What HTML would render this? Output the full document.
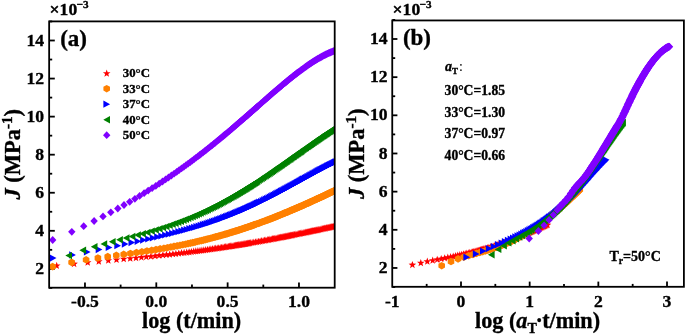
<!DOCTYPE html>
<html><head><meta charset="utf-8"><style>
html,body{margin:0;padding:0;background:#fff;width:685px;height:334px;overflow:hidden}
svg{display:block;will-change:transform}
</style></head><body>
<svg width="685" height="334" viewBox="0 0 685 334">
<defs>
<path id="st" d="M0.00,-3.70 L0.97,-1.03 L3.80,-0.94 L1.57,0.81 L2.35,3.54 L0.00,1.95 L-2.35,3.54 L-1.57,0.81 L-3.80,-0.94 L-0.97,-1.03Z" fill="#FF0000"/>
<path id="hx" d="M0.00,-3.80 L3.29,-1.90 L3.29,1.90 L0.00,3.80 L-3.29,1.90 L-3.29,-1.90Z" fill="#FF8000"/>
<path id="tr" d="M-3.3,-3.6 L3.4,0 L-3.3,3.6Z" fill="#0000FF"/>
<path id="tl" d="M3.3,-3.7 L-3.4,0 L3.3,3.7Z" fill="#008000"/>
<path id="dm" d="M0,-3.9 L3.7,0 L0,3.9 L-3.7,0Z" fill="#8000FF"/>
<clipPath id="cL"><rect x="49" y="21" width="285.6" height="266.6"/></clipPath>
<clipPath id="cR"><rect x="392" y="20" width="292" height="267"/></clipPath>
</defs>
<rect width="685" height="334" fill="#fff"/>
<g stroke="#000" stroke-width="1.8" fill="none">
<line x1="49" y1="287.89" x2="52.2" y2="287.89"/><line x1="49" y1="268.86" x2="54.8" y2="268.86"/><line x1="49" y1="249.83" x2="52.2" y2="249.83"/><line x1="49" y1="230.80" x2="54.8" y2="230.80"/><line x1="49" y1="211.77" x2="52.2" y2="211.77"/><line x1="49" y1="192.74" x2="54.8" y2="192.74"/><line x1="49" y1="173.71" x2="52.2" y2="173.71"/><line x1="49" y1="154.68" x2="54.8" y2="154.68"/><line x1="49" y1="135.65" x2="52.2" y2="135.65"/><line x1="49" y1="116.62" x2="54.8" y2="116.62"/><line x1="49" y1="97.59" x2="52.2" y2="97.59"/><line x1="49" y1="78.56" x2="54.8" y2="78.56"/><line x1="49" y1="59.53" x2="52.2" y2="59.53"/><line x1="49" y1="40.50" x2="54.8" y2="40.50"/><line x1="49" y1="21.47" x2="52.2" y2="21.47"/><line x1="84.97" y1="287.7" x2="84.97" y2="282.4"/><line x1="120.63" y1="287.7" x2="120.63" y2="284.6"/><line x1="156.30" y1="287.7" x2="156.30" y2="282.4"/><line x1="191.97" y1="287.7" x2="191.97" y2="284.6"/><line x1="227.63" y1="287.7" x2="227.63" y2="282.4"/><line x1="263.30" y1="287.7" x2="263.30" y2="284.6"/><line x1="298.97" y1="287.7" x2="298.97" y2="282.4"/><line x1="392.3" y1="287.04" x2="395.2" y2="287.04"/><line x1="392.3" y1="267.96" x2="397.4" y2="267.96"/><line x1="392.3" y1="248.88" x2="395.2" y2="248.88"/><line x1="392.3" y1="229.80" x2="397.4" y2="229.80"/><line x1="392.3" y1="210.72" x2="395.2" y2="210.72"/><line x1="392.3" y1="191.64" x2="397.4" y2="191.64"/><line x1="392.3" y1="172.56" x2="395.2" y2="172.56"/><line x1="392.3" y1="153.48" x2="397.4" y2="153.48"/><line x1="392.3" y1="134.40" x2="395.2" y2="134.40"/><line x1="392.3" y1="115.32" x2="397.4" y2="115.32"/><line x1="392.3" y1="96.24" x2="395.2" y2="96.24"/><line x1="392.3" y1="77.16" x2="397.4" y2="77.16"/><line x1="392.3" y1="58.08" x2="395.2" y2="58.08"/><line x1="392.3" y1="39.00" x2="397.4" y2="39.00"/><line x1="392.3" y1="19.92" x2="395.2" y2="19.92"/><line x1="426.67" y1="286.8" x2="426.67" y2="283.9"/><line x1="461.00" y1="286.8" x2="461.00" y2="281.6"/><line x1="495.33" y1="286.8" x2="495.33" y2="283.9"/><line x1="529.67" y1="286.8" x2="529.67" y2="281.6"/><line x1="564.00" y1="286.8" x2="564.00" y2="283.9"/><line x1="598.34" y1="286.8" x2="598.34" y2="281.6"/><line x1="632.67" y1="286.8" x2="632.67" y2="283.9"/><line x1="667.01" y1="286.8" x2="667.01" y2="281.6"/>
</g>
<g clip-path="url(#cL)"><use href="#st" x="56.7" y="265.5"/><use href="#st" x="74.1" y="263.6"/><use href="#st" x="87.7" y="262.2"/><use href="#st" x="98.8" y="261.2"/><use href="#st" x="108.3" y="260.3"/><use href="#st" x="116.5" y="259.5"/><use href="#st" x="123.7" y="258.8"/><use href="#st" x="130.2" y="258.2"/><use href="#st" x="136.0" y="257.7"/><use href="#st" x="141.4" y="257.1"/><use href="#st" x="146.3" y="256.6"/><use href="#st" x="150.9" y="256.2"/><use href="#st" x="155.1" y="255.7"/><use href="#st" x="159.1" y="255.3"/><use href="#st" x="162.9" y="254.9"/><use href="#st" x="166.4" y="254.5"/><use href="#st" x="169.7" y="254.2"/><use href="#st" x="172.9" y="253.8"/><use href="#st" x="175.9" y="253.5"/><use href="#st" x="178.8" y="253.1"/><use href="#st" x="181.5" y="252.8"/><use href="#st" x="184.1" y="252.5"/><use href="#st" x="186.7" y="252.2"/><use href="#st" x="189.1" y="251.9"/><use href="#st" x="191.4" y="251.6"/><use href="#st" x="193.7" y="251.3"/><use href="#st" x="195.8" y="251.0"/><use href="#st" x="197.9" y="250.8"/><use href="#st" x="200.0" y="250.5"/><use href="#st" x="201.9" y="250.2"/><use href="#st" x="203.8" y="250.0"/><use href="#st" x="205.7" y="249.7"/><use href="#st" x="207.5" y="249.5"/><use href="#st" x="209.2" y="249.2"/><use href="#st" x="210.9" y="249.0"/><use href="#st" x="212.5" y="248.8"/><use href="#st" x="214.2" y="248.5"/><use href="#st" x="215.7" y="248.3"/><use href="#st" x="217.2" y="248.1"/><use href="#st" x="218.7" y="247.9"/><use href="#st" x="220.2" y="247.7"/><use href="#st" x="221.6" y="247.4"/><use href="#st" x="223.0" y="247.2"/><use href="#st" x="224.4" y="247.0"/><use href="#st" x="225.7" y="246.8"/><use href="#st" x="227.0" y="246.6"/><use href="#st" x="228.3" y="246.4"/><use href="#st" x="229.5" y="246.2"/><use href="#st" x="230.7" y="246.0"/><use href="#st" x="231.9" y="245.9"/><use href="#st" x="233.1" y="245.7"/><use href="#st" x="234.3" y="245.5"/><use href="#st" x="235.4" y="245.3"/><use href="#st" x="236.5" y="245.1"/><use href="#st" x="237.6" y="244.9"/><use href="#st" x="238.7" y="244.8"/><use href="#st" x="239.8" y="244.6"/><use href="#st" x="240.8" y="244.4"/><use href="#st" x="241.8" y="244.3"/><use href="#st" x="242.8" y="244.1"/><use href="#st" x="243.8" y="243.9"/><use href="#st" x="244.8" y="243.8"/><use href="#st" x="245.8" y="243.6"/><use href="#st" x="246.7" y="243.4"/><use href="#st" x="247.6" y="243.3"/><use href="#st" x="248.5" y="243.1"/><use href="#st" x="249.5" y="243.0"/><use href="#st" x="250.3" y="242.8"/><use href="#st" x="252.1" y="242.5"/><use href="#st" x="253.8" y="242.2"/><use href="#st" x="255.4" y="241.9"/><use href="#st" x="257.0" y="241.7"/><use href="#st" x="258.6" y="241.4"/><use href="#st" x="260.1" y="241.1"/><use href="#st" x="261.6" y="240.8"/><use href="#st" x="263.1" y="240.6"/><use href="#st" x="264.5" y="240.3"/><use href="#st" x="265.9" y="240.1"/><use href="#st" x="267.3" y="239.8"/><use href="#st" x="268.6" y="239.6"/><use href="#st" x="269.9" y="239.3"/><use href="#st" x="271.2" y="239.1"/><use href="#st" x="272.4" y="238.8"/><use href="#st" x="273.6" y="238.6"/><use href="#st" x="274.8" y="238.4"/><use href="#st" x="276.0" y="238.2"/><use href="#st" x="277.2" y="237.9"/><use href="#st" x="278.3" y="237.7"/><use href="#st" x="279.4" y="237.5"/><use href="#st" x="280.5" y="237.3"/><use href="#st" x="281.6" y="237.1"/><use href="#st" x="282.7" y="236.9"/><use href="#st" x="283.7" y="236.7"/><use href="#st" x="284.7" y="236.5"/><use href="#st" x="285.7" y="236.3"/><use href="#st" x="286.7" y="236.1"/><use href="#st" x="287.7" y="235.9"/><use href="#st" x="288.7" y="235.7"/><use href="#st" x="289.6" y="235.5"/><use href="#st" x="290.5" y="235.3"/><use href="#st" x="291.5" y="235.1"/><use href="#st" x="292.4" y="235.0"/><use href="#st" x="293.3" y="234.8"/><use href="#st" x="294.6" y="234.5"/><use href="#st" x="295.9" y="234.3"/><use href="#st" x="297.1" y="234.0"/><use href="#st" x="298.3" y="233.8"/><use href="#st" x="299.6" y="233.5"/><use href="#st" x="300.7" y="233.3"/><use href="#st" x="301.9" y="233.0"/><use href="#st" x="303.1" y="232.8"/><use href="#st" x="304.2" y="232.6"/><use href="#st" x="305.3" y="232.3"/><use href="#st" x="306.4" y="232.1"/><use href="#st" x="307.4" y="231.9"/><use href="#st" x="308.5" y="231.7"/><use href="#st" x="309.5" y="231.5"/><use href="#st" x="310.5" y="231.2"/><use href="#st" x="311.5" y="231.0"/><use href="#st" x="312.5" y="230.8"/><use href="#st" x="313.5" y="230.6"/><use href="#st" x="314.4" y="230.4"/><use href="#st" x="315.3" y="230.2"/><use href="#st" x="316.3" y="230.0"/><use href="#st" x="317.2" y="229.9"/><use href="#st" x="318.1" y="229.7"/><use href="#st" x="319.0" y="229.5"/><use href="#st" x="320.1" y="229.2"/><use href="#st" x="321.2" y="229.0"/><use href="#st" x="322.4" y="228.8"/><use href="#st" x="323.5" y="228.5"/><use href="#st" x="324.5" y="228.3"/><use href="#st" x="325.6" y="228.1"/><use href="#st" x="326.6" y="227.8"/><use href="#st" x="327.7" y="227.6"/><use href="#st" x="328.7" y="227.4"/><use href="#st" x="329.7" y="227.2"/><use href="#st" x="330.6" y="227.0"/><use href="#st" x="331.6" y="226.8"/><use href="#st" x="332.5" y="226.6"/><use href="#st" x="333.5" y="226.4"/><use href="#st" x="334.4" y="226.2"/><use href="#st" x="335.3" y="226.0"/><use href="#st" x="336.2" y="225.8"/><use href="#st" x="337.3" y="225.6"/><use href="#hx" x="52.6" y="266.6"/><use href="#hx" x="71.6" y="262.4"/><use href="#hx" x="86.1" y="259.8"/><use href="#hx" x="97.9" y="258.0"/><use href="#hx" x="107.7" y="256.6"/><use href="#hx" x="116.3" y="255.4"/><use href="#hx" x="123.7" y="254.4"/><use href="#hx" x="130.4" y="253.5"/><use href="#hx" x="136.5" y="252.6"/><use href="#hx" x="141.9" y="251.8"/><use href="#hx" x="147.0" y="251.0"/><use href="#hx" x="151.7" y="250.3"/><use href="#hx" x="156.0" y="249.6"/><use href="#hx" x="160.1" y="248.9"/><use href="#hx" x="163.9" y="248.3"/><use href="#hx" x="167.4" y="247.7"/><use href="#hx" x="170.8" y="247.0"/><use href="#hx" x="174.0" y="246.4"/><use href="#hx" x="177.1" y="245.9"/><use href="#hx" x="180.0" y="245.3"/><use href="#hx" x="182.8" y="244.7"/><use href="#hx" x="185.5" y="244.2"/><use href="#hx" x="188.0" y="243.6"/><use href="#hx" x="190.5" y="243.1"/><use href="#hx" x="192.8" y="242.6"/><use href="#hx" x="195.1" y="242.1"/><use href="#hx" x="197.3" y="241.5"/><use href="#hx" x="199.4" y="241.0"/><use href="#hx" x="201.4" y="240.6"/><use href="#hx" x="203.4" y="240.1"/><use href="#hx" x="205.3" y="239.6"/><use href="#hx" x="207.2" y="239.1"/><use href="#hx" x="209.0" y="238.7"/><use href="#hx" x="210.8" y="238.2"/><use href="#hx" x="212.5" y="237.8"/><use href="#hx" x="214.1" y="237.3"/><use href="#hx" x="215.7" y="236.9"/><use href="#hx" x="217.3" y="236.5"/><use href="#hx" x="218.9" y="236.0"/><use href="#hx" x="220.4" y="235.6"/><use href="#hx" x="221.8" y="235.2"/><use href="#hx" x="223.3" y="234.8"/><use href="#hx" x="224.7" y="234.4"/><use href="#hx" x="226.0" y="234.0"/><use href="#hx" x="227.4" y="233.6"/><use href="#hx" x="228.7" y="233.2"/><use href="#hx" x="230.0" y="232.8"/><use href="#hx" x="231.2" y="232.4"/><use href="#hx" x="232.5" y="232.0"/><use href="#hx" x="233.7" y="231.7"/><use href="#hx" x="234.8" y="231.3"/><use href="#hx" x="236.0" y="230.9"/><use href="#hx" x="237.1" y="230.6"/><use href="#hx" x="238.3" y="230.2"/><use href="#hx" x="239.4" y="229.9"/><use href="#hx" x="240.5" y="229.5"/><use href="#hx" x="241.5" y="229.2"/><use href="#hx" x="242.6" y="228.8"/><use href="#hx" x="243.6" y="228.5"/><use href="#hx" x="244.6" y="228.1"/><use href="#hx" x="245.6" y="227.8"/><use href="#hx" x="246.6" y="227.5"/><use href="#hx" x="247.5" y="227.2"/><use href="#hx" x="248.5" y="226.8"/><use href="#hx" x="249.4" y="226.5"/><use href="#hx" x="250.3" y="226.2"/><use href="#hx" x="251.2" y="225.9"/><use href="#hx" x="252.1" y="225.6"/><use href="#hx" x="253.0" y="225.3"/><use href="#hx" x="253.9" y="224.9"/><use href="#hx" x="254.8" y="224.6"/><use href="#hx" x="256.4" y="224.0"/><use href="#hx" x="258.1" y="223.5"/><use href="#hx" x="259.7" y="222.9"/><use href="#hx" x="261.2" y="222.3"/><use href="#hx" x="262.7" y="221.7"/><use href="#hx" x="264.2" y="221.2"/><use href="#hx" x="265.7" y="220.6"/><use href="#hx" x="267.1" y="220.1"/><use href="#hx" x="268.4" y="219.6"/><use href="#hx" x="269.8" y="219.1"/><use href="#hx" x="271.1" y="218.6"/><use href="#hx" x="272.4" y="218.1"/><use href="#hx" x="273.7" y="217.6"/><use href="#hx" x="274.9" y="217.1"/><use href="#hx" x="276.1" y="216.6"/><use href="#hx" x="277.3" y="216.1"/><use href="#hx" x="278.5" y="215.6"/><use href="#hx" x="279.7" y="215.2"/><use href="#hx" x="280.8" y="214.7"/><use href="#hx" x="281.9" y="214.3"/><use href="#hx" x="283.0" y="213.8"/><use href="#hx" x="284.0" y="213.4"/><use href="#hx" x="285.1" y="212.9"/><use href="#hx" x="286.1" y="212.5"/><use href="#hx" x="287.2" y="212.1"/><use href="#hx" x="288.2" y="211.7"/><use href="#hx" x="289.1" y="211.3"/><use href="#hx" x="290.1" y="210.8"/><use href="#hx" x="291.1" y="210.4"/><use href="#hx" x="292.0" y="210.0"/><use href="#hx" x="292.9" y="209.7"/><use href="#hx" x="293.8" y="209.3"/><use href="#hx" x="294.7" y="208.9"/><use href="#hx" x="295.6" y="208.5"/><use href="#hx" x="296.5" y="208.1"/><use href="#hx" x="297.4" y="207.7"/><use href="#hx" x="298.2" y="207.4"/><use href="#hx" x="299.1" y="207.0"/><use href="#hx" x="299.9" y="206.6"/><use href="#hx" x="301.1" y="206.1"/><use href="#hx" x="302.3" y="205.6"/><use href="#hx" x="303.5" y="205.1"/><use href="#hx" x="304.6" y="204.6"/><use href="#hx" x="305.8" y="204.0"/><use href="#hx" x="306.9" y="203.5"/><use href="#hx" x="308.0" y="203.1"/><use href="#hx" x="309.0" y="202.6"/><use href="#hx" x="310.1" y="202.1"/><use href="#hx" x="311.1" y="201.6"/><use href="#hx" x="312.1" y="201.2"/><use href="#hx" x="313.1" y="200.7"/><use href="#hx" x="314.1" y="200.3"/><use href="#hx" x="315.1" y="199.8"/><use href="#hx" x="316.1" y="199.4"/><use href="#hx" x="317.0" y="198.9"/><use href="#hx" x="317.9" y="198.5"/><use href="#hx" x="318.8" y="198.1"/><use href="#hx" x="319.7" y="197.7"/><use href="#hx" x="320.6" y="197.3"/><use href="#hx" x="321.5" y="196.9"/><use href="#hx" x="322.4" y="196.5"/><use href="#hx" x="323.2" y="196.1"/><use href="#hx" x="324.1" y="195.7"/><use href="#hx" x="324.9" y="195.3"/><use href="#hx" x="325.7" y="194.9"/><use href="#hx" x="326.8" y="194.4"/><use href="#hx" x="327.8" y="193.9"/><use href="#hx" x="328.9" y="193.4"/><use href="#hx" x="329.9" y="192.9"/><use href="#hx" x="330.9" y="192.4"/><use href="#hx" x="331.9" y="192.0"/><use href="#hx" x="332.9" y="191.5"/><use href="#hx" x="333.8" y="191.0"/><use href="#hx" x="334.8" y="190.6"/><use href="#hx" x="335.7" y="190.1"/><use href="#tr" x="53.1" y="258.1"/><use href="#tr" x="72.5" y="254.9"/><use href="#tr" x="87.2" y="252.0"/><use href="#tr" x="99.0" y="249.6"/><use href="#tr" x="109.0" y="247.5"/><use href="#tr" x="117.6" y="245.7"/><use href="#tr" x="125.1" y="244.1"/><use href="#tr" x="131.8" y="242.6"/><use href="#tr" x="137.9" y="241.3"/><use href="#tr" x="143.4" y="240.1"/><use href="#tr" x="148.5" y="239.0"/><use href="#tr" x="153.1" y="237.9"/><use href="#tr" x="157.5" y="236.9"/><use href="#tr" x="161.6" y="236.0"/><use href="#tr" x="165.4" y="235.0"/><use href="#tr" x="169.0" y="234.2"/><use href="#tr" x="172.4" y="233.3"/><use href="#tr" x="175.6" y="232.5"/><use href="#tr" x="178.7" y="231.7"/><use href="#tr" x="181.6" y="230.9"/><use href="#tr" x="184.4" y="230.2"/><use href="#tr" x="187.0" y="229.5"/><use href="#tr" x="189.6" y="228.7"/><use href="#tr" x="192.1" y="228.0"/><use href="#tr" x="194.4" y="227.4"/><use href="#tr" x="196.7" y="226.7"/><use href="#tr" x="198.9" y="226.0"/><use href="#tr" x="201.0" y="225.4"/><use href="#tr" x="203.1" y="224.7"/><use href="#tr" x="205.0" y="224.1"/><use href="#tr" x="207.0" y="223.5"/><use href="#tr" x="208.8" y="222.9"/><use href="#tr" x="210.6" y="222.3"/><use href="#tr" x="212.4" y="221.7"/><use href="#tr" x="214.1" y="221.1"/><use href="#tr" x="215.8" y="220.5"/><use href="#tr" x="217.4" y="219.9"/><use href="#tr" x="219.0" y="219.4"/><use href="#tr" x="220.5" y="218.8"/><use href="#tr" x="222.0" y="218.3"/><use href="#tr" x="223.5" y="217.7"/><use href="#tr" x="224.9" y="217.2"/><use href="#tr" x="226.3" y="216.7"/><use href="#tr" x="227.7" y="216.1"/><use href="#tr" x="229.0" y="215.6"/><use href="#tr" x="230.3" y="215.1"/><use href="#tr" x="231.6" y="214.6"/><use href="#tr" x="232.9" y="214.1"/><use href="#tr" x="234.1" y="213.6"/><use href="#tr" x="235.3" y="213.1"/><use href="#tr" x="236.5" y="212.6"/><use href="#tr" x="237.7" y="212.2"/><use href="#tr" x="238.8" y="211.7"/><use href="#tr" x="239.9" y="211.2"/><use href="#tr" x="241.0" y="210.7"/><use href="#tr" x="242.1" y="210.3"/><use href="#tr" x="243.2" y="209.8"/><use href="#tr" x="244.2" y="209.4"/><use href="#tr" x="245.3" y="208.9"/><use href="#tr" x="246.3" y="208.5"/><use href="#tr" x="247.3" y="208.0"/><use href="#tr" x="248.2" y="207.6"/><use href="#tr" x="249.2" y="207.1"/><use href="#tr" x="250.2" y="206.7"/><use href="#tr" x="251.1" y="206.3"/><use href="#tr" x="252.0" y="205.9"/><use href="#tr" x="252.9" y="205.5"/><use href="#tr" x="253.8" y="205.0"/><use href="#tr" x="254.7" y="204.6"/><use href="#tr" x="255.6" y="204.2"/><use href="#tr" x="256.4" y="203.8"/><use href="#tr" x="257.3" y="203.4"/><use href="#tr" x="258.1" y="203.0"/><use href="#tr" x="258.9" y="202.6"/><use href="#tr" x="259.7" y="202.2"/><use href="#tr" x="261.3" y="201.5"/><use href="#tr" x="262.9" y="200.7"/><use href="#tr" x="264.4" y="199.9"/><use href="#tr" x="265.9" y="199.2"/><use href="#tr" x="267.3" y="198.5"/><use href="#tr" x="268.8" y="197.8"/><use href="#tr" x="270.1" y="197.1"/><use href="#tr" x="271.5" y="196.4"/><use href="#tr" x="272.8" y="195.7"/><use href="#tr" x="274.1" y="195.0"/><use href="#tr" x="275.4" y="194.4"/><use href="#tr" x="276.6" y="193.7"/><use href="#tr" x="277.8" y="193.1"/><use href="#tr" x="279.0" y="192.4"/><use href="#tr" x="280.2" y="191.8"/><use href="#tr" x="281.3" y="191.2"/><use href="#tr" x="282.5" y="190.6"/><use href="#tr" x="283.6" y="190.0"/><use href="#tr" x="284.7" y="189.4"/><use href="#tr" x="285.7" y="188.8"/><use href="#tr" x="286.8" y="188.3"/><use href="#tr" x="287.8" y="187.7"/><use href="#tr" x="288.9" y="187.1"/><use href="#tr" x="289.9" y="186.6"/><use href="#tr" x="290.8" y="186.1"/><use href="#tr" x="291.8" y="185.5"/><use href="#tr" x="292.8" y="185.0"/><use href="#tr" x="293.7" y="184.5"/><use href="#tr" x="294.6" y="184.0"/><use href="#tr" x="295.5" y="183.5"/><use href="#tr" x="296.4" y="183.0"/><use href="#tr" x="297.3" y="182.5"/><use href="#tr" x="298.2" y="182.0"/><use href="#tr" x="299.1" y="181.5"/><use href="#tr" x="299.9" y="181.1"/><use href="#tr" x="300.8" y="180.6"/><use href="#tr" x="301.6" y="180.1"/><use href="#tr" x="302.4" y="179.7"/><use href="#tr" x="303.2" y="179.2"/><use href="#tr" x="304.0" y="178.8"/><use href="#tr" x="305.2" y="178.1"/><use href="#tr" x="306.3" y="177.5"/><use href="#tr" x="307.5" y="176.9"/><use href="#tr" x="308.6" y="176.3"/><use href="#tr" x="309.7" y="175.7"/><use href="#tr" x="310.7" y="175.1"/><use href="#tr" x="311.8" y="174.5"/><use href="#tr" x="312.8" y="173.9"/><use href="#tr" x="313.8" y="173.4"/><use href="#tr" x="314.9" y="172.8"/><use href="#tr" x="315.8" y="172.3"/><use href="#tr" x="316.8" y="171.7"/><use href="#tr" x="317.8" y="171.2"/><use href="#tr" x="318.7" y="170.7"/><use href="#tr" x="319.6" y="170.2"/><use href="#tr" x="320.6" y="169.7"/><use href="#tr" x="321.5" y="169.3"/><use href="#tr" x="322.3" y="168.8"/><use href="#tr" x="323.2" y="168.3"/><use href="#tr" x="324.1" y="167.9"/><use href="#tr" x="324.9" y="167.4"/><use href="#tr" x="325.8" y="167.0"/><use href="#tr" x="326.6" y="166.6"/><use href="#tr" x="327.4" y="166.1"/><use href="#tr" x="328.2" y="165.7"/><use href="#tr" x="329.3" y="165.2"/><use href="#tr" x="330.3" y="164.7"/><use href="#tr" x="331.4" y="164.2"/><use href="#tr" x="332.4" y="163.7"/><use href="#tr" x="333.4" y="163.2"/><use href="#tr" x="334.3" y="162.7"/><use href="#tr" x="335.3" y="162.2"/><use href="#tr" x="336.2" y="161.8"/><use href="#tr" x="337.2" y="161.3"/><use href="#tl" x="68.7" y="255.6"/><use href="#tl" x="82.8" y="250.3"/><use href="#tl" x="94.2" y="246.7"/><use href="#tl" x="103.9" y="243.9"/><use href="#tl" x="112.3" y="241.7"/><use href="#tl" x="119.6" y="239.7"/><use href="#tl" x="126.2" y="238.0"/><use href="#tl" x="132.1" y="236.5"/><use href="#tl" x="137.6" y="235.0"/><use href="#tl" x="142.6" y="233.7"/><use href="#tl" x="147.2" y="232.4"/><use href="#tl" x="151.5" y="231.1"/><use href="#tl" x="155.5" y="229.9"/><use href="#tl" x="159.3" y="228.7"/><use href="#tl" x="162.8" y="227.6"/><use href="#tl" x="166.2" y="226.5"/><use href="#tl" x="169.4" y="225.4"/><use href="#tl" x="172.4" y="224.3"/><use href="#tl" x="175.3" y="223.3"/><use href="#tl" x="178.1" y="222.3"/><use href="#tl" x="180.7" y="221.3"/><use href="#tl" x="183.3" y="220.3"/><use href="#tl" x="185.7" y="219.3"/><use href="#tl" x="188.0" y="218.4"/><use href="#tl" x="190.3" y="217.4"/><use href="#tl" x="192.5" y="216.5"/><use href="#tl" x="194.6" y="215.6"/><use href="#tl" x="196.6" y="214.7"/><use href="#tl" x="198.6" y="213.9"/><use href="#tl" x="200.5" y="213.0"/><use href="#tl" x="202.4" y="212.1"/><use href="#tl" x="204.2" y="211.3"/><use href="#tl" x="205.9" y="210.5"/><use href="#tl" x="207.6" y="209.7"/><use href="#tl" x="209.3" y="208.8"/><use href="#tl" x="210.9" y="208.0"/><use href="#tl" x="212.5" y="207.3"/><use href="#tl" x="214.0" y="206.5"/><use href="#tl" x="215.5" y="205.7"/><use href="#tl" x="216.9" y="205.0"/><use href="#tl" x="218.4" y="204.2"/><use href="#tl" x="219.8" y="203.5"/><use href="#tl" x="221.1" y="202.8"/><use href="#tl" x="222.5" y="202.0"/><use href="#tl" x="223.8" y="201.3"/><use href="#tl" x="225.1" y="200.6"/><use href="#tl" x="226.3" y="199.9"/><use href="#tl" x="227.5" y="199.3"/><use href="#tl" x="228.7" y="198.6"/><use href="#tl" x="229.9" y="197.9"/><use href="#tl" x="231.1" y="197.3"/><use href="#tl" x="232.2" y="196.6"/><use href="#tl" x="233.3" y="196.0"/><use href="#tl" x="234.4" y="195.3"/><use href="#tl" x="235.5" y="194.7"/><use href="#tl" x="236.6" y="194.1"/><use href="#tl" x="237.6" y="193.5"/><use href="#tl" x="238.6" y="192.8"/><use href="#tl" x="239.7" y="192.2"/><use href="#tl" x="240.6" y="191.6"/><use href="#tl" x="241.6" y="191.0"/><use href="#tl" x="242.6" y="190.5"/><use href="#tl" x="243.5" y="189.9"/><use href="#tl" x="244.5" y="189.3"/><use href="#tl" x="245.4" y="188.7"/><use href="#tl" x="246.3" y="188.2"/><use href="#tl" x="247.2" y="187.6"/><use href="#tl" x="248.1" y="187.1"/><use href="#tl" x="248.9" y="186.5"/><use href="#tl" x="249.8" y="186.0"/><use href="#tl" x="250.6" y="185.5"/><use href="#tl" x="251.5" y="184.9"/><use href="#tl" x="252.3" y="184.4"/><use href="#tl" x="253.1" y="183.9"/><use href="#tl" x="253.9" y="183.4"/><use href="#tl" x="254.7" y="182.9"/><use href="#tl" x="255.5" y="182.4"/><use href="#tl" x="256.2" y="181.9"/><use href="#tl" x="257.0" y="181.4"/><use href="#tl" x="258.5" y="180.4"/><use href="#tl" x="259.9" y="179.4"/><use href="#tl" x="261.4" y="178.5"/><use href="#tl" x="262.8" y="177.6"/><use href="#tl" x="264.1" y="176.6"/><use href="#tl" x="265.5" y="175.8"/><use href="#tl" x="266.8" y="174.9"/><use href="#tl" x="268.0" y="174.0"/><use href="#tl" x="269.3" y="173.2"/><use href="#tl" x="270.5" y="172.3"/><use href="#tl" x="271.7" y="171.5"/><use href="#tl" x="272.9" y="170.7"/><use href="#tl" x="274.1" y="169.9"/><use href="#tl" x="275.2" y="169.1"/><use href="#tl" x="276.3" y="168.3"/><use href="#tl" x="277.4" y="167.6"/><use href="#tl" x="278.5" y="166.8"/><use href="#tl" x="279.6" y="166.1"/><use href="#tl" x="280.6" y="165.4"/><use href="#tl" x="281.6" y="164.7"/><use href="#tl" x="282.6" y="163.9"/><use href="#tl" x="283.6" y="163.3"/><use href="#tl" x="284.6" y="162.6"/><use href="#tl" x="285.6" y="161.9"/><use href="#tl" x="286.5" y="161.2"/><use href="#tl" x="287.4" y="160.6"/><use href="#tl" x="288.4" y="159.9"/><use href="#tl" x="289.3" y="159.3"/><use href="#tl" x="290.2" y="158.7"/><use href="#tl" x="291.0" y="158.0"/><use href="#tl" x="291.9" y="157.4"/><use href="#tl" x="292.8" y="156.8"/><use href="#tl" x="293.6" y="156.2"/><use href="#tl" x="294.4" y="155.6"/><use href="#tl" x="295.3" y="155.1"/><use href="#tl" x="296.1" y="154.5"/><use href="#tl" x="296.9" y="153.9"/><use href="#tl" x="297.7" y="153.4"/><use href="#tl" x="298.4" y="152.8"/><use href="#tl" x="299.2" y="152.3"/><use href="#tl" x="300.0" y="151.7"/><use href="#tl" x="300.7" y="151.2"/><use href="#tl" x="301.5" y="150.7"/><use href="#tl" x="302.6" y="149.9"/><use href="#tl" x="303.6" y="149.1"/><use href="#tl" x="304.7" y="148.4"/><use href="#tl" x="305.7" y="147.7"/><use href="#tl" x="306.8" y="146.9"/><use href="#tl" x="307.8" y="146.2"/><use href="#tl" x="308.8" y="145.5"/><use href="#tl" x="309.7" y="144.9"/><use href="#tl" x="310.7" y="144.2"/><use href="#tl" x="311.7" y="143.5"/><use href="#tl" x="312.6" y="142.9"/><use href="#tl" x="313.5" y="142.2"/><use href="#tl" x="314.4" y="141.6"/><use href="#tl" x="315.3" y="141.0"/><use href="#tl" x="316.2" y="140.4"/><use href="#tl" x="317.0" y="139.8"/><use href="#tl" x="317.9" y="139.2"/><use href="#tl" x="318.7" y="138.6"/><use href="#tl" x="319.6" y="138.1"/><use href="#tl" x="320.4" y="137.5"/><use href="#tl" x="321.2" y="136.9"/><use href="#tl" x="322.0" y="136.4"/><use href="#tl" x="322.8" y="135.9"/><use href="#tl" x="323.6" y="135.3"/><use href="#tl" x="324.3" y="134.8"/><use href="#tl" x="325.1" y="134.3"/><use href="#tl" x="325.9" y="133.8"/><use href="#tl" x="326.8" y="133.2"/><use href="#tl" x="327.8" y="132.5"/><use href="#tl" x="328.8" y="131.9"/><use href="#tl" x="329.7" y="131.3"/><use href="#tl" x="330.6" y="130.7"/><use href="#tl" x="331.6" y="130.1"/><use href="#tl" x="332.5" y="129.5"/><use href="#tl" x="333.4" y="128.9"/><use href="#tl" x="334.2" y="128.3"/><use href="#tl" x="335.1" y="127.8"/><use href="#tl" x="335.9" y="127.3"/><use href="#tl" x="336.8" y="126.7"/><use href="#tl" x="337.6" y="126.2"/><use href="#tl" x="338.4" y="125.7"/><use href="#tl" x="339.2" y="125.2"/><use href="#tl" x="340.0" y="124.7"/><use href="#tl" x="340.8" y="124.2"/><use href="#tl" x="341.6" y="123.7"/><use href="#dm" x="52.7" y="240.0"/><use href="#dm" x="71.8" y="231.8"/><use href="#dm" x="83.7" y="226.2"/><use href="#dm" x="94.1" y="221.0"/><use href="#dm" x="103.0" y="216.4"/><use href="#dm" x="110.8" y="212.3"/><use href="#dm" x="117.8" y="208.5"/><use href="#dm" x="124.0" y="205.0"/><use href="#dm" x="129.7" y="201.8"/><use href="#dm" x="134.9" y="198.8"/><use href="#dm" x="139.6" y="195.9"/><use href="#dm" x="144.1" y="193.2"/><use href="#dm" x="148.2" y="190.6"/><use href="#dm" x="152.1" y="188.2"/><use href="#dm" x="155.8" y="185.9"/><use href="#dm" x="159.2" y="183.7"/><use href="#dm" x="162.5" y="181.5"/><use href="#dm" x="165.6" y="179.4"/><use href="#dm" x="168.5" y="177.5"/><use href="#dm" x="171.4" y="175.5"/><use href="#dm" x="174.1" y="173.7"/><use href="#dm" x="176.7" y="171.9"/><use href="#dm" x="179.1" y="170.1"/><use href="#dm" x="181.5" y="168.4"/><use href="#dm" x="183.8" y="166.8"/><use href="#dm" x="186.0" y="165.2"/><use href="#dm" x="188.2" y="163.6"/><use href="#dm" x="190.3" y="162.1"/><use href="#dm" x="192.3" y="160.6"/><use href="#dm" x="194.2" y="159.1"/><use href="#dm" x="196.1" y="157.7"/><use href="#dm" x="197.9" y="156.3"/><use href="#dm" x="199.7" y="155.0"/><use href="#dm" x="201.4" y="153.6"/><use href="#dm" x="203.1" y="152.3"/><use href="#dm" x="204.7" y="151.1"/><use href="#dm" x="206.3" y="149.8"/><use href="#dm" x="207.8" y="148.6"/><use href="#dm" x="209.4" y="147.4"/><use href="#dm" x="210.8" y="146.2"/><use href="#dm" x="212.3" y="145.1"/><use href="#dm" x="213.7" y="143.9"/><use href="#dm" x="215.1" y="142.8"/><use href="#dm" x="216.4" y="141.7"/><use href="#dm" x="217.7" y="140.6"/><use href="#dm" x="219.0" y="139.6"/><use href="#dm" x="220.3" y="138.5"/><use href="#dm" x="221.5" y="137.5"/><use href="#dm" x="222.8" y="136.5"/><use href="#dm" x="223.9" y="135.5"/><use href="#dm" x="225.1" y="134.5"/><use href="#dm" x="226.3" y="133.6"/><use href="#dm" x="227.4" y="132.6"/><use href="#dm" x="228.5" y="131.7"/><use href="#dm" x="229.6" y="130.8"/><use href="#dm" x="230.7" y="129.8"/><use href="#dm" x="231.7" y="129.0"/><use href="#dm" x="232.7" y="128.1"/><use href="#dm" x="233.8" y="127.2"/><use href="#dm" x="234.8" y="126.3"/><use href="#dm" x="235.7" y="125.5"/><use href="#dm" x="236.7" y="124.7"/><use href="#dm" x="237.7" y="123.8"/><use href="#dm" x="238.6" y="123.0"/><use href="#dm" x="239.5" y="122.2"/><use href="#dm" x="240.4" y="121.4"/><use href="#dm" x="241.3" y="120.7"/><use href="#dm" x="242.2" y="119.9"/><use href="#dm" x="243.1" y="119.1"/><use href="#dm" x="244.0" y="118.4"/><use href="#dm" x="244.8" y="117.7"/><use href="#dm" x="245.6" y="116.9"/><use href="#dm" x="246.5" y="116.2"/><use href="#dm" x="247.3" y="115.5"/><use href="#dm" x="248.1" y="114.8"/><use href="#dm" x="248.9" y="114.1"/><use href="#dm" x="249.7" y="113.4"/><use href="#dm" x="250.4" y="112.7"/><use href="#dm" x="251.2" y="112.1"/><use href="#dm" x="252.0" y="111.4"/><use href="#dm" x="252.7" y="110.7"/><use href="#dm" x="253.5" y="110.1"/><use href="#dm" x="254.2" y="109.4"/><use href="#dm" x="254.9" y="108.8"/><use href="#dm" x="255.6" y="108.2"/><use href="#dm" x="256.3" y="107.6"/><use href="#dm" x="257.0" y="107.0"/><use href="#dm" x="257.7" y="106.3"/><use href="#dm" x="258.4" y="105.8"/><use href="#dm" x="259.7" y="104.6"/><use href="#dm" x="261.0" y="103.4"/><use href="#dm" x="262.3" y="102.3"/><use href="#dm" x="263.6" y="101.2"/><use href="#dm" x="264.8" y="100.1"/><use href="#dm" x="266.0" y="99.1"/><use href="#dm" x="267.2" y="98.0"/><use href="#dm" x="268.4" y="97.0"/><use href="#dm" x="269.5" y="96.0"/><use href="#dm" x="270.6" y="95.0"/><use href="#dm" x="271.7" y="94.1"/><use href="#dm" x="272.8" y="93.1"/><use href="#dm" x="273.9" y="92.2"/><use href="#dm" x="274.9" y="91.3"/><use href="#dm" x="276.0" y="90.4"/><use href="#dm" x="277.0" y="89.6"/><use href="#dm" x="278.0" y="88.7"/><use href="#dm" x="279.0" y="87.9"/><use href="#dm" x="279.9" y="87.1"/><use href="#dm" x="280.9" y="86.3"/><use href="#dm" x="281.8" y="85.5"/><use href="#dm" x="282.7" y="84.7"/><use href="#dm" x="283.6" y="83.9"/><use href="#dm" x="284.5" y="83.2"/><use href="#dm" x="285.4" y="82.5"/><use href="#dm" x="286.3" y="81.8"/><use href="#dm" x="287.1" y="81.0"/><use href="#dm" x="288.0" y="80.4"/><use href="#dm" x="288.8" y="79.7"/><use href="#dm" x="289.6" y="79.0"/><use href="#dm" x="290.5" y="78.3"/><use href="#dm" x="291.3" y="77.7"/><use href="#dm" x="292.1" y="77.1"/><use href="#dm" x="292.8" y="76.4"/><use href="#dm" x="293.6" y="75.8"/><use href="#dm" x="294.4" y="75.2"/><use href="#dm" x="295.1" y="74.6"/><use href="#dm" x="295.9" y="74.1"/><use href="#dm" x="296.6" y="73.5"/><use href="#dm" x="297.3" y="72.9"/><use href="#dm" x="298.0" y="72.4"/><use href="#dm" x="299.1" y="71.6"/><use href="#dm" x="300.2" y="70.8"/><use href="#dm" x="301.2" y="70.0"/><use href="#dm" x="302.2" y="69.3"/><use href="#dm" x="303.2" y="68.6"/><use href="#dm" x="304.2" y="67.9"/><use href="#dm" x="305.1" y="67.2"/><use href="#dm" x="306.1" y="66.5"/><use href="#dm" x="307.0" y="65.8"/><use href="#dm" x="307.9" y="65.2"/><use href="#dm" x="308.8" y="64.6"/><use href="#dm" x="309.7" y="64.0"/><use href="#dm" x="310.6" y="63.4"/><use href="#dm" x="311.5" y="62.8"/><use href="#dm" x="312.3" y="62.2"/><use href="#dm" x="313.2" y="61.7"/><use href="#dm" x="314.0" y="61.2"/><use href="#dm" x="314.8" y="60.7"/><use href="#dm" x="315.7" y="60.2"/><use href="#dm" x="316.5" y="59.7"/><use href="#dm" x="317.2" y="59.2"/><use href="#dm" x="318.0" y="58.7"/><use href="#dm" x="319.1" y="58.1"/><use href="#dm" x="320.1" y="57.5"/><use href="#dm" x="321.1" y="57.0"/><use href="#dm" x="322.0" y="56.5"/><use href="#dm" x="323.0" y="55.9"/><use href="#dm" x="323.9" y="55.4"/><use href="#dm" x="324.9" y="55.0"/><use href="#dm" x="325.8" y="54.5"/><use href="#dm" x="326.7" y="54.1"/><use href="#dm" x="327.6" y="53.6"/><use href="#dm" x="328.5" y="53.2"/><use href="#dm" x="329.3" y="52.8"/><use href="#dm" x="330.2" y="52.5"/><use href="#dm" x="331.0" y="52.1"/><use href="#dm" x="331.9" y="51.8"/><use href="#dm" x="332.9" y="51.4"/><use href="#dm" x="333.9" y="51.0"/><use href="#dm" x="334.9" y="50.6"/><use href="#dm" x="335.9" y="50.3"/><use href="#dm" x="336.8" y="50.0"/><use href="#dm" x="337.8" y="49.7"/><use href="#dm" x="338.7" y="49.4"/><use href="#dm" x="339.6" y="49.1"/><use href="#dm" x="340.6" y="48.9"/><use href="#dm" x="341.4" y="48.7"/><use href="#dm" x="342.3" y="48.5"/><use href="#dm" x="343.4" y="48.2"/></g>
<g clip-path="url(#cR)"><use href="#st" x="412.4" y="264.6"/><use href="#st" x="420.8" y="262.7"/><use href="#st" x="427.3" y="261.3"/><use href="#st" x="432.7" y="260.2"/><use href="#st" x="437.2" y="259.4"/><use href="#st" x="441.2" y="258.6"/><use href="#st" x="444.7" y="257.9"/><use href="#st" x="447.8" y="257.3"/><use href="#st" x="450.6" y="256.7"/><use href="#st" x="453.2" y="256.2"/><use href="#st" x="455.5" y="255.7"/><use href="#st" x="457.7" y="255.3"/><use href="#st" x="459.8" y="254.8"/><use href="#st" x="461.7" y="254.4"/><use href="#st" x="463.5" y="254.0"/><use href="#st" x="465.2" y="253.6"/><use href="#st" x="466.8" y="253.2"/><use href="#st" x="468.3" y="252.9"/><use href="#st" x="469.8" y="252.5"/><use href="#st" x="471.2" y="252.2"/><use href="#st" x="472.5" y="251.9"/><use href="#st" x="473.7" y="251.6"/><use href="#st" x="475.0" y="251.2"/><use href="#st" x="476.1" y="250.9"/><use href="#st" x="477.2" y="250.7"/><use href="#st" x="478.3" y="250.4"/><use href="#st" x="479.4" y="250.1"/><use href="#st" x="480.4" y="249.8"/><use href="#st" x="481.4" y="249.5"/><use href="#st" x="482.3" y="249.3"/><use href="#st" x="483.2" y="249.0"/><use href="#st" x="484.1" y="248.8"/><use href="#st" x="485.8" y="248.3"/><use href="#st" x="487.4" y="247.8"/><use href="#st" x="488.9" y="247.4"/><use href="#st" x="490.4" y="246.9"/><use href="#st" x="491.8" y="246.5"/><use href="#st" x="493.1" y="246.1"/><use href="#st" x="494.4" y="245.7"/><use href="#st" x="495.6" y="245.3"/><use href="#st" x="496.8" y="244.9"/><use href="#st" x="497.9" y="244.5"/><use href="#st" x="499.0" y="244.2"/><use href="#st" x="500.0" y="243.8"/><use href="#st" x="501.0" y="243.5"/><use href="#st" x="502.0" y="243.1"/><use href="#st" x="502.9" y="242.8"/><use href="#st" x="503.9" y="242.5"/><use href="#st" x="504.7" y="242.2"/><use href="#st" x="505.6" y="241.9"/><use href="#st" x="506.9" y="241.4"/><use href="#st" x="508.1" y="241.0"/><use href="#st" x="509.2" y="240.5"/><use href="#st" x="510.3" y="240.1"/><use href="#st" x="511.4" y="239.7"/><use href="#st" x="512.4" y="239.3"/><use href="#st" x="513.4" y="239.0"/><use href="#st" x="514.4" y="238.6"/><use href="#st" x="515.3" y="238.2"/><use href="#st" x="516.2" y="237.9"/><use href="#st" x="517.1" y="237.5"/><use href="#st" x="518.0" y="237.2"/><use href="#st" x="519.1" y="236.7"/><use href="#st" x="520.1" y="236.3"/><use href="#st" x="521.2" y="235.9"/><use href="#st" x="522.2" y="235.5"/><use href="#st" x="523.1" y="235.1"/><use href="#st" x="524.1" y="234.7"/><use href="#st" x="525.0" y="234.3"/><use href="#st" x="525.8" y="234.0"/><use href="#st" x="526.7" y="233.6"/><use href="#st" x="527.7" y="233.2"/><use href="#st" x="528.7" y="232.8"/><use href="#st" x="529.7" y="232.4"/><use href="#st" x="530.6" y="232.0"/><use href="#st" x="531.5" y="231.6"/><use href="#st" x="532.4" y="231.2"/><use href="#st" x="533.3" y="230.8"/><use href="#st" x="534.1" y="230.5"/><use href="#st" x="535.0" y="230.0"/><use href="#st" x="536.0" y="229.6"/><use href="#st" x="536.9" y="229.2"/><use href="#st" x="537.8" y="228.9"/><use href="#st" x="538.6" y="228.5"/><use href="#st" x="539.5" y="228.1"/><use href="#st" x="540.4" y="227.7"/><use href="#st" x="541.3" y="227.3"/><use href="#st" x="542.2" y="226.9"/><use href="#st" x="543.1" y="226.5"/><use href="#st" x="543.9" y="226.1"/><use href="#st" x="544.8" y="225.7"/><use href="#st" x="545.7" y="225.3"/><use href="#st" x="546.6" y="224.9"/><use href="#st" x="547.5" y="224.6"/><use href="#hx" x="441.7" y="265.7"/><use href="#hx" x="451.0" y="261.5"/><use href="#hx" x="458.1" y="258.9"/><use href="#hx" x="463.8" y="257.1"/><use href="#hx" x="468.7" y="255.7"/><use href="#hx" x="472.9" y="254.5"/><use href="#hx" x="476.5" y="253.4"/><use href="#hx" x="479.8" y="252.5"/><use href="#hx" x="482.7" y="251.7"/><use href="#hx" x="485.4" y="250.9"/><use href="#hx" x="487.9" y="250.1"/><use href="#hx" x="490.2" y="249.4"/><use href="#hx" x="492.3" y="248.7"/><use href="#hx" x="494.3" y="248.0"/><use href="#hx" x="496.1" y="247.3"/><use href="#hx" x="497.9" y="246.7"/><use href="#hx" x="499.6" y="246.1"/><use href="#hx" x="501.1" y="245.5"/><use href="#hx" x="502.6" y="244.9"/><use href="#hx" x="504.0" y="244.3"/><use href="#hx" x="505.4" y="243.8"/><use href="#hx" x="506.7" y="243.2"/><use href="#hx" x="508.0" y="242.7"/><use href="#hx" x="509.2" y="242.1"/><use href="#hx" x="510.3" y="241.6"/><use href="#hx" x="511.4" y="241.1"/><use href="#hx" x="512.5" y="240.6"/><use href="#hx" x="513.5" y="240.1"/><use href="#hx" x="514.5" y="239.6"/><use href="#hx" x="515.5" y="239.1"/><use href="#hx" x="516.4" y="238.6"/><use href="#hx" x="517.4" y="238.2"/><use href="#hx" x="518.2" y="237.7"/><use href="#hx" x="519.1" y="237.2"/><use href="#hx" x="519.9" y="236.8"/><use href="#hx" x="520.7" y="236.3"/><use href="#hx" x="521.5" y="235.9"/><use href="#hx" x="523.1" y="235.0"/><use href="#hx" x="524.5" y="234.2"/><use href="#hx" x="525.9" y="233.4"/><use href="#hx" x="527.2" y="232.6"/><use href="#hx" x="528.5" y="231.8"/><use href="#hx" x="529.7" y="231.0"/><use href="#hx" x="530.9" y="230.3"/><use href="#hx" x="532.0" y="229.6"/><use href="#hx" x="533.1" y="228.9"/><use href="#hx" x="534.1" y="228.2"/><use href="#hx" x="535.2" y="227.5"/><use href="#hx" x="536.1" y="226.8"/><use href="#hx" x="537.1" y="226.1"/><use href="#hx" x="538.0" y="225.5"/><use href="#hx" x="538.9" y="224.9"/><use href="#hx" x="539.8" y="224.2"/><use href="#hx" x="540.6" y="223.6"/><use href="#hx" x="541.4" y="223.0"/><use href="#hx" x="542.2" y="222.4"/><use href="#hx" x="543.0" y="221.9"/><use href="#hx" x="543.8" y="221.3"/><use href="#hx" x="544.5" y="220.7"/><use href="#hx" x="545.3" y="220.2"/><use href="#hx" x="546.3" y="219.4"/><use href="#hx" x="547.3" y="218.6"/><use href="#hx" x="548.3" y="217.8"/><use href="#hx" x="549.3" y="217.0"/><use href="#hx" x="550.2" y="216.3"/><use href="#hx" x="551.1" y="215.5"/><use href="#hx" x="552.0" y="214.8"/><use href="#hx" x="552.8" y="214.1"/><use href="#hx" x="553.6" y="213.4"/><use href="#hx" x="554.4" y="212.8"/><use href="#hx" x="555.2" y="212.1"/><use href="#hx" x="556.0" y="211.5"/><use href="#hx" x="556.7" y="210.8"/><use href="#hx" x="557.5" y="210.2"/><use href="#hx" x="558.2" y="209.6"/><use href="#hx" x="558.9" y="209.0"/><use href="#hx" x="559.8" y="208.2"/><use href="#hx" x="560.6" y="207.4"/><use href="#hx" x="561.5" y="206.7"/><use href="#hx" x="562.3" y="205.9"/><use href="#hx" x="563.1" y="205.2"/><use href="#hx" x="563.9" y="204.5"/><use href="#hx" x="564.7" y="203.8"/><use href="#hx" x="565.4" y="203.1"/><use href="#hx" x="566.1" y="202.5"/><use href="#hx" x="566.8" y="201.8"/><use href="#hx" x="567.5" y="201.2"/><use href="#hx" x="568.2" y="200.6"/><use href="#hx" x="568.9" y="199.9"/><use href="#hx" x="569.7" y="199.2"/><use href="#hx" x="570.5" y="198.4"/><use href="#hx" x="571.2" y="197.7"/><use href="#hx" x="572.0" y="197.0"/><use href="#hx" x="572.7" y="196.3"/><use href="#hx" x="573.4" y="195.6"/><use href="#hx" x="574.1" y="195.0"/><use href="#hx" x="574.8" y="194.3"/><use href="#hx" x="575.5" y="193.7"/><use href="#hx" x="576.1" y="193.0"/><use href="#hx" x="576.9" y="192.3"/><use href="#hx" x="577.6" y="191.6"/><use href="#hx" x="578.4" y="190.9"/><use href="#hx" x="579.1" y="190.2"/><use href="#hx" x="579.8" y="189.5"/><use href="#tr" x="466.7" y="257.2"/><use href="#tr" x="476.1" y="253.9"/><use href="#tr" x="483.3" y="251.0"/><use href="#tr" x="489.1" y="248.6"/><use href="#tr" x="494.0" y="246.5"/><use href="#tr" x="498.2" y="244.7"/><use href="#tr" x="501.9" y="243.1"/><use href="#tr" x="505.2" y="241.7"/><use href="#tr" x="508.2" y="240.3"/><use href="#tr" x="510.9" y="239.1"/><use href="#tr" x="513.3" y="238.0"/><use href="#tr" x="515.6" y="236.9"/><use href="#tr" x="517.8" y="235.9"/><use href="#tr" x="519.8" y="235.0"/><use href="#tr" x="521.6" y="234.1"/><use href="#tr" x="523.4" y="233.2"/><use href="#tr" x="525.0" y="232.3"/><use href="#tr" x="526.6" y="231.5"/><use href="#tr" x="528.1" y="230.7"/><use href="#tr" x="529.6" y="229.9"/><use href="#tr" x="530.9" y="229.2"/><use href="#tr" x="532.2" y="228.5"/><use href="#tr" x="533.5" y="227.7"/><use href="#tr" x="534.7" y="227.0"/><use href="#tr" x="535.8" y="226.3"/><use href="#tr" x="537.0" y="225.7"/><use href="#tr" x="538.0" y="225.0"/><use href="#tr" x="539.1" y="224.4"/><use href="#tr" x="540.1" y="223.7"/><use href="#tr" x="541.0" y="223.1"/><use href="#tr" x="542.0" y="222.5"/><use href="#tr" x="542.9" y="221.9"/><use href="#tr" x="543.8" y="221.2"/><use href="#tr" x="544.6" y="220.7"/><use href="#tr" x="545.5" y="220.1"/><use href="#tr" x="546.3" y="219.5"/><use href="#tr" x="547.1" y="218.9"/><use href="#tr" x="547.9" y="218.4"/><use href="#tr" x="548.6" y="217.8"/><use href="#tr" x="549.3" y="217.2"/><use href="#tr" x="550.1" y="216.7"/><use href="#tr" x="551.5" y="215.6"/><use href="#tr" x="552.8" y="214.6"/><use href="#tr" x="554.1" y="213.6"/><use href="#tr" x="555.3" y="212.6"/><use href="#tr" x="556.4" y="211.6"/><use href="#tr" x="557.6" y="210.6"/><use href="#tr" x="558.7" y="209.7"/><use href="#tr" x="559.7" y="208.8"/><use href="#tr" x="560.7" y="207.9"/><use href="#tr" x="561.7" y="207.0"/><use href="#tr" x="562.7" y="206.1"/><use href="#tr" x="563.6" y="205.2"/><use href="#tr" x="564.5" y="204.4"/><use href="#tr" x="565.4" y="203.6"/><use href="#tr" x="566.2" y="202.7"/><use href="#tr" x="567.0" y="201.9"/><use href="#tr" x="567.8" y="201.1"/><use href="#tr" x="568.6" y="200.4"/><use href="#tr" x="569.4" y="199.6"/><use href="#tr" x="570.1" y="198.9"/><use href="#tr" x="570.8" y="198.1"/><use href="#tr" x="571.5" y="197.4"/><use href="#tr" x="572.2" y="196.7"/><use href="#tr" x="572.9" y="196.0"/><use href="#tr" x="573.6" y="195.3"/><use href="#tr" x="574.2" y="194.6"/><use href="#tr" x="574.8" y="193.9"/><use href="#tr" x="575.5" y="193.3"/><use href="#tr" x="576.4" y="192.3"/><use href="#tr" x="577.3" y="191.3"/><use href="#tr" x="578.1" y="190.4"/><use href="#tr" x="579.0" y="189.5"/><use href="#tr" x="579.8" y="188.6"/><use href="#tr" x="580.6" y="187.7"/><use href="#tr" x="581.3" y="186.9"/><use href="#tr" x="582.1" y="186.0"/><use href="#tr" x="582.8" y="185.2"/><use href="#tr" x="583.5" y="184.4"/><use href="#tr" x="584.2" y="183.6"/><use href="#tr" x="584.9" y="182.9"/><use href="#tr" x="585.6" y="182.1"/><use href="#tr" x="586.2" y="181.4"/><use href="#tr" x="586.9" y="180.6"/><use href="#tr" x="587.5" y="179.9"/><use href="#tr" x="588.1" y="179.2"/><use href="#tr" x="588.7" y="178.5"/><use href="#tr" x="589.5" y="177.6"/><use href="#tr" x="590.3" y="176.8"/><use href="#tr" x="591.0" y="175.9"/><use href="#tr" x="591.7" y="175.1"/><use href="#tr" x="592.4" y="174.3"/><use href="#tr" x="593.1" y="173.5"/><use href="#tr" x="593.8" y="172.8"/><use href="#tr" x="594.5" y="172.0"/><use href="#tr" x="595.1" y="171.3"/><use href="#tr" x="595.8" y="170.6"/><use href="#tr" x="596.4" y="169.9"/><use href="#tr" x="597.0" y="169.2"/><use href="#tr" x="597.7" y="168.4"/><use href="#tr" x="598.5" y="167.6"/><use href="#tr" x="599.2" y="166.9"/><use href="#tr" x="599.9" y="166.1"/><use href="#tr" x="600.6" y="165.4"/><use href="#tr" x="601.2" y="164.7"/><use href="#tr" x="601.9" y="164.0"/><use href="#tr" x="602.5" y="163.4"/><use href="#tr" x="603.3" y="162.6"/><use href="#tr" x="604.0" y="161.9"/><use href="#tr" x="604.7" y="161.2"/><use href="#tr" x="605.4" y="160.5"/><use href="#tr" x="606.1" y="159.8"/><use href="#tl" x="491.3" y="254.7"/><use href="#tl" x="498.1" y="249.4"/><use href="#tl" x="503.6" y="245.7"/><use href="#tl" x="508.2" y="242.9"/><use href="#tl" x="512.3" y="240.7"/><use href="#tl" x="515.8" y="238.8"/><use href="#tl" x="519.0" y="237.1"/><use href="#tl" x="521.8" y="235.5"/><use href="#tl" x="524.4" y="234.0"/><use href="#tl" x="526.9" y="232.7"/><use href="#tl" x="529.1" y="231.4"/><use href="#tl" x="531.1" y="230.1"/><use href="#tl" x="533.1" y="228.9"/><use href="#tl" x="534.9" y="227.7"/><use href="#tl" x="536.6" y="226.6"/><use href="#tl" x="538.2" y="225.5"/><use href="#tl" x="539.8" y="224.4"/><use href="#tl" x="541.2" y="223.3"/><use href="#tl" x="542.6" y="222.3"/><use href="#tl" x="543.9" y="221.3"/><use href="#tl" x="545.2" y="220.3"/><use href="#tl" x="546.4" y="219.3"/><use href="#tl" x="547.6" y="218.3"/><use href="#tl" x="548.7" y="217.3"/><use href="#tl" x="549.8" y="216.4"/><use href="#tl" x="550.9" y="215.5"/><use href="#tl" x="551.9" y="214.6"/><use href="#tl" x="552.9" y="213.7"/><use href="#tl" x="553.8" y="212.8"/><use href="#tl" x="554.7" y="211.9"/><use href="#tl" x="555.6" y="211.1"/><use href="#tl" x="556.5" y="210.2"/><use href="#tl" x="557.3" y="209.4"/><use href="#tl" x="558.2" y="208.6"/><use href="#tl" x="559.0" y="207.8"/><use href="#tl" x="559.7" y="207.0"/><use href="#tl" x="560.5" y="206.2"/><use href="#tl" x="561.2" y="205.4"/><use href="#tl" x="561.9" y="204.7"/><use href="#tl" x="562.7" y="203.9"/><use href="#tl" x="563.3" y="203.2"/><use href="#tl" x="564.0" y="202.4"/><use href="#tl" x="564.7" y="201.7"/><use href="#tl" x="565.3" y="201.0"/><use href="#tl" x="565.9" y="200.3"/><use href="#tl" x="566.6" y="199.6"/><use href="#tl" x="567.2" y="198.9"/><use href="#tl" x="567.7" y="198.2"/><use href="#tl" x="568.9" y="196.8"/><use href="#tl" x="570.0" y="195.5"/><use href="#tl" x="571.1" y="194.2"/><use href="#tl" x="572.1" y="193.0"/><use href="#tl" x="573.1" y="191.7"/><use href="#tl" x="574.1" y="190.5"/><use href="#tl" x="575.0" y="189.4"/><use href="#tl" x="575.9" y="188.2"/><use href="#tl" x="576.8" y="187.1"/><use href="#tl" x="577.6" y="186.0"/><use href="#tl" x="578.5" y="184.9"/><use href="#tl" x="579.3" y="183.8"/><use href="#tl" x="580.0" y="182.8"/><use href="#tl" x="580.8" y="181.7"/><use href="#tl" x="581.6" y="180.7"/><use href="#tl" x="582.3" y="179.7"/><use href="#tl" x="583.0" y="178.8"/><use href="#tl" x="583.7" y="177.8"/><use href="#tl" x="584.4" y="176.9"/><use href="#tl" x="585.0" y="176.0"/><use href="#tl" x="585.7" y="175.1"/><use href="#tl" x="586.3" y="174.2"/><use href="#tl" x="586.9" y="173.3"/><use href="#tl" x="587.6" y="172.4"/><use href="#tl" x="588.1" y="171.6"/><use href="#tl" x="588.7" y="170.8"/><use href="#tl" x="589.3" y="169.9"/><use href="#tl" x="589.9" y="169.1"/><use href="#tl" x="590.4" y="168.3"/><use href="#tl" x="591.0" y="167.6"/><use href="#tl" x="591.5" y="166.8"/><use href="#tl" x="592.0" y="166.0"/><use href="#tl" x="592.5" y="165.3"/><use href="#tl" x="593.3" y="164.2"/><use href="#tl" x="594.0" y="163.1"/><use href="#tl" x="594.7" y="162.1"/><use href="#tl" x="595.5" y="161.0"/><use href="#tl" x="596.1" y="160.0"/><use href="#tl" x="596.8" y="159.1"/><use href="#tl" x="597.5" y="158.1"/><use href="#tl" x="598.1" y="157.2"/><use href="#tl" x="598.7" y="156.2"/><use href="#tl" x="599.3" y="155.3"/><use href="#tl" x="600.0" y="154.4"/><use href="#tl" x="600.5" y="153.6"/><use href="#tl" x="601.1" y="152.7"/><use href="#tl" x="601.7" y="151.9"/><use href="#tl" x="602.2" y="151.1"/><use href="#tl" x="602.8" y="150.3"/><use href="#tl" x="603.3" y="149.5"/><use href="#tl" x="603.9" y="148.7"/><use href="#tl" x="604.4" y="147.9"/><use href="#tl" x="604.9" y="147.2"/><use href="#tl" x="605.6" y="146.2"/><use href="#tl" x="606.2" y="145.2"/><use href="#tl" x="606.8" y="144.3"/><use href="#tl" x="607.5" y="143.4"/><use href="#tl" x="608.1" y="142.5"/><use href="#tl" x="608.7" y="141.6"/><use href="#tl" x="609.3" y="140.8"/><use href="#tl" x="609.8" y="140.0"/><use href="#tl" x="610.4" y="139.2"/><use href="#tl" x="611.0" y="138.4"/><use href="#tl" x="611.5" y="137.6"/><use href="#tl" x="612.0" y="136.8"/><use href="#tl" x="612.6" y="136.1"/><use href="#tl" x="613.2" y="135.2"/><use href="#tl" x="613.8" y="134.3"/><use href="#tl" x="614.5" y="133.4"/><use href="#tl" x="615.1" y="132.6"/><use href="#tl" x="615.7" y="131.7"/><use href="#tl" x="616.2" y="130.9"/><use href="#tl" x="616.8" y="130.2"/><use href="#tl" x="617.4" y="129.4"/><use href="#tl" x="617.9" y="128.6"/><use href="#tl" x="618.5" y="127.9"/><use href="#tl" x="619.1" y="127.1"/><use href="#tl" x="619.7" y="126.2"/><use href="#tl" x="620.3" y="125.4"/><use href="#tl" x="620.9" y="124.7"/><use href="#tl" x="621.5" y="123.9"/><use href="#tl" x="622.1" y="123.2"/><use href="#tl" x="622.6" y="122.5"/><use href="#dm" x="529.2" y="238.5"/><use href="#dm" x="538.4" y="231.0"/><use href="#dm" x="544.1" y="225.3"/><use href="#dm" x="549.1" y="219.9"/><use href="#dm" x="553.4" y="214.8"/><use href="#dm" x="557.2" y="210.2"/><use href="#dm" x="560.5" y="206.2"/><use href="#dm" x="563.5" y="202.9"/><use href="#dm" x="566.3" y="200.0"/><use href="#dm" x="568.7" y="196.9"/><use href="#dm" x="571.1" y="193.5"/><use href="#dm" x="573.2" y="190.4"/><use href="#dm" x="575.2" y="187.7"/><use href="#dm" x="577.1" y="185.5"/><use href="#dm" x="578.8" y="183.6"/><use href="#dm" x="580.5" y="181.9"/><use href="#dm" x="582.0" y="180.2"/><use href="#dm" x="583.5" y="178.5"/><use href="#dm" x="585.0" y="176.7"/><use href="#dm" x="586.3" y="174.9"/><use href="#dm" x="587.6" y="173.1"/><use href="#dm" x="588.9" y="171.3"/><use href="#dm" x="590.1" y="169.5"/><use href="#dm" x="591.2" y="167.8"/><use href="#dm" x="592.3" y="166.1"/><use href="#dm" x="593.4" y="164.5"/><use href="#dm" x="594.4" y="162.9"/><use href="#dm" x="595.4" y="161.4"/><use href="#dm" x="596.4" y="159.9"/><use href="#dm" x="597.3" y="158.4"/><use href="#dm" x="598.2" y="157.0"/><use href="#dm" x="599.1" y="155.6"/><use href="#dm" x="599.9" y="154.2"/><use href="#dm" x="600.8" y="152.9"/><use href="#dm" x="601.6" y="151.6"/><use href="#dm" x="602.4" y="150.3"/><use href="#dm" x="603.1" y="149.0"/><use href="#dm" x="603.9" y="147.8"/><use href="#dm" x="604.6" y="146.6"/><use href="#dm" x="605.3" y="145.4"/><use href="#dm" x="606.0" y="144.3"/><use href="#dm" x="606.7" y="143.2"/><use href="#dm" x="607.4" y="142.1"/><use href="#dm" x="608.0" y="141.0"/><use href="#dm" x="608.6" y="139.9"/><use href="#dm" x="609.3" y="138.9"/><use href="#dm" x="609.9" y="137.9"/><use href="#dm" x="610.5" y="136.9"/><use href="#dm" x="611.1" y="136.0"/><use href="#dm" x="611.6" y="135.0"/><use href="#dm" x="612.2" y="134.1"/><use href="#dm" x="612.7" y="133.2"/><use href="#dm" x="613.3" y="132.3"/><use href="#dm" x="613.8" y="131.4"/><use href="#dm" x="614.3" y="130.5"/><use href="#dm" x="614.9" y="129.7"/><use href="#dm" x="615.4" y="128.9"/><use href="#dm" x="615.9" y="128.1"/><use href="#dm" x="616.4" y="127.3"/><use href="#dm" x="616.8" y="126.5"/><use href="#dm" x="617.3" y="125.7"/><use href="#dm" x="617.8" y="124.9"/><use href="#dm" x="618.7" y="123.4"/><use href="#dm" x="619.6" y="121.9"/><use href="#dm" x="620.4" y="120.3"/><use href="#dm" x="621.3" y="118.8"/><use href="#dm" x="622.1" y="117.3"/><use href="#dm" x="622.9" y="115.7"/><use href="#dm" x="623.6" y="114.1"/><use href="#dm" x="624.4" y="112.5"/><use href="#dm" x="625.1" y="111.0"/><use href="#dm" x="625.8" y="109.4"/><use href="#dm" x="626.5" y="107.9"/><use href="#dm" x="627.2" y="106.4"/><use href="#dm" x="627.9" y="105.0"/><use href="#dm" x="628.5" y="103.6"/><use href="#dm" x="629.2" y="102.2"/><use href="#dm" x="629.8" y="100.9"/><use href="#dm" x="630.4" y="99.6"/><use href="#dm" x="631.0" y="98.4"/><use href="#dm" x="631.6" y="97.2"/><use href="#dm" x="632.2" y="96.0"/><use href="#dm" x="632.7" y="94.8"/><use href="#dm" x="633.3" y="93.7"/><use href="#dm" x="633.8" y="92.6"/><use href="#dm" x="634.4" y="91.6"/><use href="#dm" x="634.9" y="90.5"/><use href="#dm" x="635.4" y="89.5"/><use href="#dm" x="635.9" y="88.6"/><use href="#dm" x="636.4" y="87.6"/><use href="#dm" x="636.9" y="86.7"/><use href="#dm" x="637.4" y="85.8"/><use href="#dm" x="637.9" y="84.9"/><use href="#dm" x="638.3" y="84.0"/><use href="#dm" x="638.8" y="83.2"/><use href="#dm" x="639.3" y="82.3"/><use href="#dm" x="639.7" y="81.5"/><use href="#dm" x="640.1" y="80.7"/><use href="#dm" x="640.8" y="79.6"/><use href="#dm" x="641.4" y="78.5"/><use href="#dm" x="642.0" y="77.4"/><use href="#dm" x="642.7" y="76.3"/><use href="#dm" x="643.3" y="75.3"/><use href="#dm" x="643.8" y="74.4"/><use href="#dm" x="644.4" y="73.4"/><use href="#dm" x="645.0" y="72.5"/><use href="#dm" x="645.5" y="71.6"/><use href="#dm" x="646.1" y="70.8"/><use href="#dm" x="646.6" y="69.9"/><use href="#dm" x="647.1" y="69.1"/><use href="#dm" x="647.6" y="68.4"/><use href="#dm" x="648.1" y="67.6"/><use href="#dm" x="648.8" y="66.6"/><use href="#dm" x="649.5" y="65.7"/><use href="#dm" x="650.1" y="64.8"/><use href="#dm" x="650.7" y="63.9"/><use href="#dm" x="651.3" y="63.1"/><use href="#dm" x="651.9" y="62.3"/><use href="#dm" x="652.5" y="61.5"/><use href="#dm" x="653.1" y="60.8"/><use href="#dm" x="653.6" y="60.1"/><use href="#dm" x="654.3" y="59.2"/><use href="#dm" x="655.0" y="58.4"/><use href="#dm" x="655.6" y="57.7"/><use href="#dm" x="656.3" y="56.9"/><use href="#dm" x="656.9" y="56.2"/><use href="#dm" x="657.5" y="55.5"/><use href="#dm" x="658.3" y="54.8"/><use href="#dm" x="659.0" y="54.1"/><use href="#dm" x="659.6" y="53.4"/><use href="#dm" x="660.3" y="52.7"/><use href="#dm" x="661.1" y="52.0"/><use href="#dm" x="661.8" y="51.4"/><use href="#dm" x="662.6" y="50.8"/><use href="#dm" x="663.3" y="50.2"/><use href="#dm" x="664.1" y="49.6"/><use href="#dm" x="664.8" y="49.1"/><use href="#dm" x="665.6" y="48.5"/><use href="#dm" x="666.4" y="48.0"/><use href="#dm" x="667.2" y="47.5"/><use href="#dm" x="668.1" y="47.1"/><use href="#dm" x="668.9" y="46.7"/><use href="#dm" x="559.9" y="206.2"/><use href="#dm" x="562.9" y="202.9"/><use href="#dm" x="565.7" y="200.0"/><use href="#dm" x="568.1" y="196.9"/><use href="#dm" x="570.5" y="193.5"/><use href="#dm" x="572.6" y="190.4"/><use href="#dm" x="574.6" y="187.7"/><use href="#dm" x="576.5" y="185.5"/><use href="#dm" x="578.2" y="183.6"/><use href="#dm" x="579.9" y="181.9"/><use href="#dm" x="581.4" y="180.2"/><use href="#dm" x="582.9" y="178.5"/><use href="#dm" x="584.4" y="176.7"/><use href="#dm" x="585.7" y="174.9"/><use href="#dm" x="587.0" y="173.1"/><use href="#dm" x="588.3" y="171.3"/><use href="#dm" x="589.5" y="169.5"/><use href="#dm" x="590.6" y="167.8"/><use href="#dm" x="591.7" y="166.1"/><use href="#dm" x="592.8" y="164.5"/><use href="#dm" x="593.8" y="162.9"/><use href="#dm" x="594.8" y="161.4"/><use href="#dm" x="595.8" y="159.9"/><use href="#dm" x="596.7" y="158.4"/><use href="#dm" x="597.6" y="157.0"/><use href="#dm" x="598.5" y="155.6"/><use href="#dm" x="599.3" y="154.2"/><use href="#dm" x="600.2" y="152.9"/><use href="#dm" x="601.0" y="151.6"/><use href="#dm" x="601.8" y="150.3"/><use href="#dm" x="602.5" y="149.0"/><use href="#dm" x="603.3" y="147.8"/><use href="#dm" x="604.0" y="146.6"/><use href="#dm" x="604.7" y="145.4"/><use href="#dm" x="605.4" y="144.3"/><use href="#dm" x="606.1" y="143.2"/><use href="#dm" x="606.8" y="142.1"/><use href="#dm" x="607.4" y="141.0"/><use href="#dm" x="608.0" y="139.9"/><use href="#dm" x="608.7" y="138.9"/><use href="#dm" x="609.3" y="137.9"/><use href="#dm" x="609.9" y="136.9"/><use href="#dm" x="610.5" y="136.0"/><use href="#dm" x="611.0" y="135.0"/><use href="#dm" x="611.6" y="134.1"/><use href="#dm" x="612.1" y="133.2"/><use href="#dm" x="612.7" y="132.3"/><use href="#dm" x="613.2" y="131.4"/><use href="#dm" x="613.7" y="130.5"/><use href="#dm" x="614.3" y="129.7"/><use href="#dm" x="614.8" y="128.9"/><use href="#dm" x="615.3" y="128.1"/><use href="#dm" x="615.8" y="127.3"/><use href="#dm" x="616.2" y="126.5"/><use href="#dm" x="616.7" y="125.7"/><use href="#dm" x="617.2" y="124.9"/><use href="#dm" x="618.1" y="123.4"/><use href="#dm" x="619.0" y="121.9"/><use href="#dm" x="619.8" y="120.3"/><use href="#dm" x="620.7" y="118.8"/><use href="#dm" x="621.5" y="117.3"/><use href="#dm" x="622.3" y="115.7"/><use href="#dm" x="623.0" y="114.1"/><use href="#dm" x="623.8" y="112.5"/><use href="#dm" x="624.5" y="111.0"/><use href="#dm" x="625.2" y="109.4"/><use href="#dm" x="625.9" y="107.9"/><use href="#dm" x="626.6" y="106.4"/><use href="#dm" x="627.3" y="105.0"/><use href="#dm" x="627.9" y="103.6"/><use href="#dm" x="628.6" y="102.2"/><use href="#dm" x="629.2" y="100.9"/><use href="#dm" x="629.8" y="99.6"/><use href="#dm" x="630.4" y="98.4"/><use href="#dm" x="631.0" y="97.2"/><use href="#dm" x="631.6" y="96.0"/><use href="#dm" x="632.1" y="94.8"/><use href="#dm" x="632.7" y="93.7"/><use href="#dm" x="633.2" y="92.6"/><use href="#dm" x="633.8" y="91.6"/><use href="#dm" x="634.3" y="90.5"/><use href="#dm" x="634.8" y="89.5"/><use href="#dm" x="635.3" y="88.6"/><use href="#dm" x="635.8" y="87.6"/><use href="#dm" x="636.3" y="86.7"/><use href="#dm" x="636.8" y="85.8"/><use href="#dm" x="637.3" y="84.9"/><use href="#dm" x="637.7" y="84.0"/><use href="#dm" x="638.2" y="83.2"/><use href="#dm" x="638.7" y="82.3"/><use href="#dm" x="639.1" y="81.5"/><use href="#dm" x="639.5" y="80.7"/><use href="#dm" x="640.2" y="79.6"/><use href="#dm" x="640.8" y="78.5"/><use href="#dm" x="641.4" y="77.4"/><use href="#dm" x="642.1" y="76.3"/><use href="#dm" x="642.7" y="75.3"/><use href="#dm" x="643.2" y="74.4"/><use href="#dm" x="643.8" y="73.4"/><use href="#dm" x="644.4" y="72.5"/><use href="#dm" x="644.9" y="71.6"/><use href="#dm" x="645.5" y="70.8"/><use href="#dm" x="646.0" y="69.9"/><use href="#dm" x="646.5" y="69.1"/><use href="#dm" x="647.0" y="68.4"/><use href="#dm" x="647.5" y="67.6"/><use href="#dm" x="648.2" y="66.6"/><use href="#dm" x="648.9" y="65.7"/><use href="#dm" x="649.5" y="64.8"/><use href="#dm" x="650.1" y="63.9"/><use href="#dm" x="650.7" y="63.1"/><use href="#dm" x="651.3" y="62.3"/><use href="#dm" x="651.9" y="61.5"/><use href="#dm" x="652.5" y="60.8"/><use href="#dm" x="653.0" y="60.1"/><use href="#dm" x="653.7" y="59.2"/><use href="#dm" x="654.4" y="58.4"/><use href="#dm" x="655.0" y="57.7"/><use href="#dm" x="655.7" y="56.9"/><use href="#dm" x="656.3" y="56.2"/><use href="#dm" x="656.9" y="55.5"/><use href="#dm" x="657.7" y="54.8"/><use href="#dm" x="658.4" y="54.1"/><use href="#dm" x="659.0" y="53.4"/><use href="#dm" x="659.7" y="52.7"/><use href="#dm" x="660.5" y="52.0"/><use href="#dm" x="661.2" y="51.4"/><use href="#dm" x="662.0" y="50.8"/><use href="#dm" x="662.7" y="50.2"/><use href="#dm" x="663.5" y="49.6"/><use href="#dm" x="664.2" y="49.1"/><use href="#dm" x="665.0" y="48.5"/><use href="#dm" x="665.8" y="48.0"/><use href="#dm" x="666.6" y="47.5"/><use href="#dm" x="667.5" y="47.1"/><use href="#dm" x="668.3" y="46.7"/><use href="#dm" x="561.1" y="206.2"/><use href="#dm" x="564.1" y="202.9"/><use href="#dm" x="566.9" y="200.0"/><use href="#dm" x="569.3" y="196.9"/><use href="#dm" x="571.7" y="193.5"/><use href="#dm" x="573.8" y="190.4"/><use href="#dm" x="575.8" y="187.7"/><use href="#dm" x="577.7" y="185.5"/><use href="#dm" x="579.4" y="183.6"/><use href="#dm" x="581.1" y="181.9"/><use href="#dm" x="582.6" y="180.2"/><use href="#dm" x="584.1" y="178.5"/><use href="#dm" x="585.6" y="176.7"/><use href="#dm" x="586.9" y="174.9"/><use href="#dm" x="588.2" y="173.1"/><use href="#dm" x="589.5" y="171.3"/><use href="#dm" x="590.7" y="169.5"/><use href="#dm" x="591.8" y="167.8"/><use href="#dm" x="592.9" y="166.1"/><use href="#dm" x="594.0" y="164.5"/><use href="#dm" x="595.0" y="162.9"/><use href="#dm" x="596.0" y="161.4"/><use href="#dm" x="597.0" y="159.9"/><use href="#dm" x="597.9" y="158.4"/><use href="#dm" x="598.8" y="157.0"/><use href="#dm" x="599.7" y="155.6"/><use href="#dm" x="600.5" y="154.2"/><use href="#dm" x="601.4" y="152.9"/><use href="#dm" x="602.2" y="151.6"/><use href="#dm" x="603.0" y="150.3"/><use href="#dm" x="603.7" y="149.0"/><use href="#dm" x="604.5" y="147.8"/><use href="#dm" x="605.2" y="146.6"/><use href="#dm" x="605.9" y="145.4"/><use href="#dm" x="606.6" y="144.3"/><use href="#dm" x="607.3" y="143.2"/><use href="#dm" x="608.0" y="142.1"/><use href="#dm" x="608.6" y="141.0"/><use href="#dm" x="609.2" y="139.9"/><use href="#dm" x="609.9" y="138.9"/><use href="#dm" x="610.5" y="137.9"/><use href="#dm" x="611.1" y="136.9"/><use href="#dm" x="611.7" y="136.0"/><use href="#dm" x="612.2" y="135.0"/><use href="#dm" x="612.8" y="134.1"/><use href="#dm" x="613.3" y="133.2"/><use href="#dm" x="613.9" y="132.3"/><use href="#dm" x="614.4" y="131.4"/><use href="#dm" x="614.9" y="130.5"/><use href="#dm" x="615.5" y="129.7"/><use href="#dm" x="616.0" y="128.9"/><use href="#dm" x="616.5" y="128.1"/><use href="#dm" x="617.0" y="127.3"/><use href="#dm" x="617.4" y="126.5"/><use href="#dm" x="617.9" y="125.7"/><use href="#dm" x="618.4" y="124.9"/><use href="#dm" x="619.3" y="123.4"/><use href="#dm" x="620.2" y="121.9"/><use href="#dm" x="621.0" y="120.3"/><use href="#dm" x="621.9" y="118.8"/><use href="#dm" x="622.7" y="117.3"/><use href="#dm" x="623.5" y="115.7"/><use href="#dm" x="624.2" y="114.1"/><use href="#dm" x="625.0" y="112.5"/><use href="#dm" x="625.7" y="111.0"/><use href="#dm" x="626.4" y="109.4"/><use href="#dm" x="627.1" y="107.9"/><use href="#dm" x="627.8" y="106.4"/><use href="#dm" x="628.5" y="105.0"/><use href="#dm" x="629.1" y="103.6"/><use href="#dm" x="629.8" y="102.2"/><use href="#dm" x="630.4" y="100.9"/><use href="#dm" x="631.0" y="99.6"/><use href="#dm" x="631.6" y="98.4"/><use href="#dm" x="632.2" y="97.2"/><use href="#dm" x="632.8" y="96.0"/><use href="#dm" x="633.3" y="94.8"/><use href="#dm" x="633.9" y="93.7"/><use href="#dm" x="634.4" y="92.6"/><use href="#dm" x="635.0" y="91.6"/><use href="#dm" x="635.5" y="90.5"/><use href="#dm" x="636.0" y="89.5"/><use href="#dm" x="636.5" y="88.6"/><use href="#dm" x="637.0" y="87.6"/><use href="#dm" x="637.5" y="86.7"/><use href="#dm" x="638.0" y="85.8"/><use href="#dm" x="638.5" y="84.9"/><use href="#dm" x="638.9" y="84.0"/><use href="#dm" x="639.4" y="83.2"/><use href="#dm" x="639.9" y="82.3"/><use href="#dm" x="640.3" y="81.5"/><use href="#dm" x="640.7" y="80.7"/><use href="#dm" x="641.4" y="79.6"/><use href="#dm" x="642.0" y="78.5"/><use href="#dm" x="642.6" y="77.4"/><use href="#dm" x="643.3" y="76.3"/><use href="#dm" x="643.9" y="75.3"/><use href="#dm" x="644.4" y="74.4"/><use href="#dm" x="645.0" y="73.4"/><use href="#dm" x="645.6" y="72.5"/><use href="#dm" x="646.1" y="71.6"/><use href="#dm" x="646.7" y="70.8"/><use href="#dm" x="647.2" y="69.9"/><use href="#dm" x="647.7" y="69.1"/><use href="#dm" x="648.2" y="68.4"/><use href="#dm" x="648.7" y="67.6"/><use href="#dm" x="649.4" y="66.6"/><use href="#dm" x="650.1" y="65.7"/><use href="#dm" x="650.7" y="64.8"/><use href="#dm" x="651.3" y="63.9"/><use href="#dm" x="651.9" y="63.1"/><use href="#dm" x="652.5" y="62.3"/><use href="#dm" x="653.1" y="61.5"/><use href="#dm" x="653.7" y="60.8"/><use href="#dm" x="654.2" y="60.1"/><use href="#dm" x="654.9" y="59.2"/><use href="#dm" x="655.6" y="58.4"/><use href="#dm" x="656.2" y="57.7"/><use href="#dm" x="656.9" y="56.9"/><use href="#dm" x="657.5" y="56.2"/><use href="#dm" x="658.1" y="55.5"/><use href="#dm" x="658.9" y="54.8"/><use href="#dm" x="659.6" y="54.1"/><use href="#dm" x="660.2" y="53.4"/><use href="#dm" x="660.9" y="52.7"/><use href="#dm" x="661.7" y="52.0"/><use href="#dm" x="662.4" y="51.4"/><use href="#dm" x="663.2" y="50.8"/><use href="#dm" x="663.9" y="50.2"/><use href="#dm" x="664.7" y="49.6"/><use href="#dm" x="665.4" y="49.1"/><use href="#dm" x="666.2" y="48.5"/><use href="#dm" x="667.0" y="48.0"/><use href="#dm" x="667.8" y="47.5"/><use href="#dm" x="668.7" y="47.1"/><use href="#dm" x="669.5" y="46.7"/></g>
<g stroke="#000" stroke-width="1.8" fill="none">
<rect x="49.15" y="21.4" width="285.55" height="266.3"/>
<rect x="392.25" y="20.45" width="291.65" height="266.35"/>
</g>
<g font-family="Liberation Serif" font-weight="bold" font-size="17.6" fill="#000" stroke="#000" stroke-width="0.35">
<text x="44" y="274.0" text-anchor="end">2</text><text x="44" y="235.9" text-anchor="end">4</text><text x="44" y="197.8" text-anchor="end">6</text><text x="44" y="159.8" text-anchor="end">8</text><text x="44" y="121.7" text-anchor="end">10</text><text x="44" y="83.7" text-anchor="end">12</text><text x="44" y="45.6" text-anchor="end">14</text><text x="387.5" y="273.1" text-anchor="end">2</text><text x="387.5" y="234.9" text-anchor="end">4</text><text x="387.5" y="196.7" text-anchor="end">6</text><text x="387.5" y="158.6" text-anchor="end">8</text><text x="387.5" y="120.4" text-anchor="end">10</text><text x="387.5" y="82.3" text-anchor="end">12</text><text x="387.5" y="44.1" text-anchor="end">14</text><text x="85.0" y="306.6" text-anchor="middle">-0.5</text><text x="156.3" y="306.6" text-anchor="middle">0.0</text><text x="227.6" y="306.6" text-anchor="middle">0.5</text><text x="299.0" y="306.6" text-anchor="middle">1.0</text><text x="392.3" y="306.6" text-anchor="middle">-1</text><text x="461.0" y="306.6" text-anchor="middle">0</text><text x="529.7" y="306.6" text-anchor="middle">1</text><text x="598.3" y="306.6" text-anchor="middle">2</text><text x="667.0" y="306.6" text-anchor="middle">3</text>
</g>
<g font-family="Liberation Serif" font-weight="bold" fill="#000" stroke="#000" stroke-width="0.35">
<text x="49.6" y="15.2" font-size="17.6">×10</text>
<text x="76.6" y="8" font-size="11.2">−3</text>
<text x="392.6" y="15.2" font-size="17.6">×10</text>
<text x="419.6" y="8" font-size="11.2">−3</text>
<text x="60.2" y="45.8" font-size="23">(a)</text>
<text x="402.9" y="44.6" font-size="23">(b)</text>
<use href="#st" x="106.7" y="73.2" stroke="none"/><text x="122.8" y="77.1" font-size="12.8">30°C</text><use href="#hx" x="106.7" y="88.7" stroke="none"/><text x="122.8" y="92.6" font-size="12.8">33°C</text><use href="#tr" x="106.7" y="104.2" stroke="none"/><text x="122.8" y="108.1" font-size="12.8">37°C</text><use href="#tl" x="106.7" y="119.7" stroke="none"/><text x="122.8" y="123.6" font-size="12.8">40°C</text><use href="#dm" x="106.7" y="135.2" stroke="none"/><text x="122.8" y="139.1" font-size="12.8">50°C</text>
<text x="445" y="70.8" font-size="14"><tspan font-style="italic">a</tspan><tspan font-size="9" dy="3.4">T</tspan><tspan dy="-3.4" dx="1" font-weight="normal" stroke-width="0">:</tspan></text>
<text x="444.6" y="94.6" font-size="13.6">30°C=1.85</text>
<text x="444.6" y="116.8" font-size="13.6">33°C=1.30</text>
<text x="444.6" y="137.7" font-size="13.6">37°C=0.97</text>
<text x="444.6" y="159.5" font-size="13.6">40°C=0.66</text>
<text x="609.5" y="261.3" font-size="14">T<tspan font-size="9.5" dy="3">r</tspan><tspan dy="-3">=50°C</tspan></text>
<text x="142" y="328.2" font-size="22.2">log (t/min)</text>
<text x="475" y="328.2" font-size="22.2">log (<tspan font-style="italic">a</tspan><tspan font-size="14" dy="4.6">T</tspan><tspan dy="-4.6" dx="-1.2">·</tspan><tspan dx="-0.8">t/min)</tspan></text>
<text transform="translate(20,199.5) rotate(-90)" font-size="22.5"><tspan font-style="italic">J</tspan> (MPa<tspan font-size="15" dy="-8">-1</tspan><tspan dy="8">)</tspan></text>
<text transform="translate(363.5,199) rotate(-90)" font-size="22.5"><tspan font-style="italic">J</tspan> (MPa<tspan font-size="15" dy="-8">-1</tspan><tspan dy="8">)</tspan></text>
</g>
</svg>
</body></html>
